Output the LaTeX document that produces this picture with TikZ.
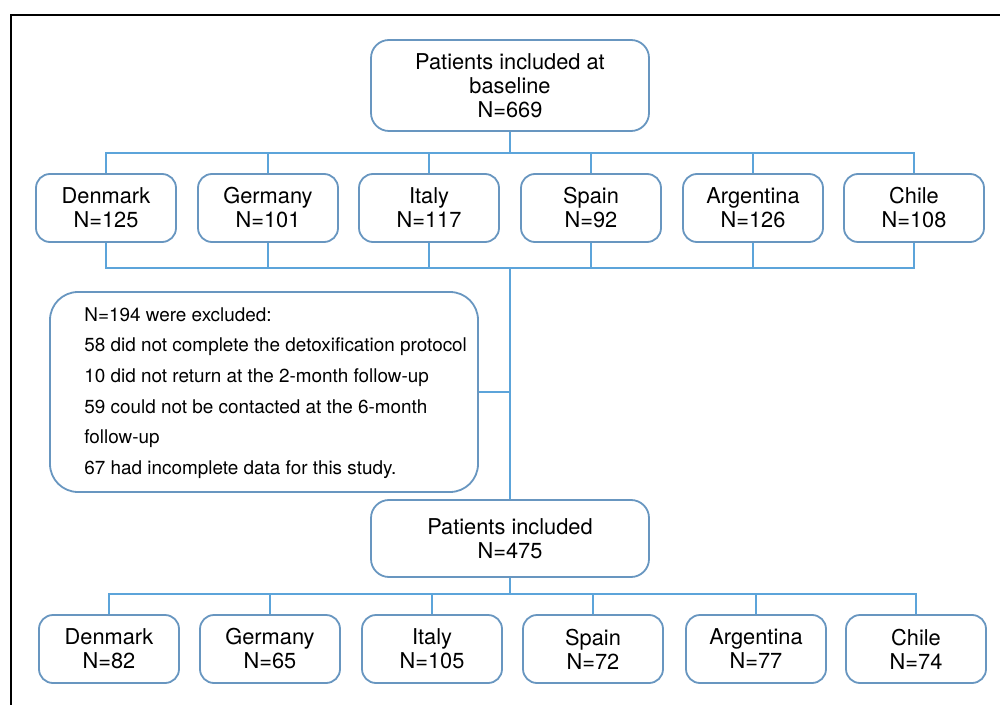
\documentclass[tikz,border=0pt]{standalone}
\usepackage{fontspec}
\setmainfont{TeX Gyre Heros}
\definecolor{boxblue}{RGB}{104,150,192}
\definecolor{linkblue}{RGB}{92,164,218}

\begin{document}
\begin{tikzpicture}[x=0.5pt,y=-0.5pt,
    box/.style={draw=boxblue,line width=0.9pt,rounded corners=7pt,align=center,
      minimum width=70pt,minimum height=34pt,inner sep=0pt,font=\fontsize{10.9}{12}\selectfont},
    bigbox/.style={box,minimum width=139pt,rounded corners=9pt},
    link/.style={draw=linkblue,line width=0.7pt}]
    \useasboundingbox (0,0) rectangle (1000,705);
    \draw[line width=1pt] (11,705) -- (11,15) -- (1000,15);
    % baseline
    \node[bigbox,minimum height=45.5pt] (top) at (510,85.5) {Patients included at\\baseline\\N=669};
    \node[box] (dk1) at (106,208) {Denmark\\N=125};
    \node[box] (de1) at (268,208) {Germany\\N=101};
    \node[box] (it1) at (429,208) {Italy\\N=117};
    \node[box] (es1) at (591,208) {Spain\\N=92};
    \node[box] (ar1) at (753,208) {Argentina\\N=126};
    \node[box] (cl1) at (914,208) {Chile\\N=108};
    \coordinate (j1) at (510,153);
    \coordinate (j2) at (510,268);
    \draw[link] (top.south) -- (j1);
    \draw[link] (j1) -| (dk1.north); \draw[link] (j1) -| (de1.north); \draw[link] (j1) -| (it1.north);
    \draw[link] (j1) -| (es1.north); \draw[link] (j1) -| (ar1.north); \draw[link] (j1) -| (cl1.north);
    \draw[link] (dk1.south) |- (j2); \draw[link] (de1.south) |- (j2); \draw[link] (it1.south) |- (j2);
    \draw[link] (es1.south) |- (j2); \draw[link] (ar1.south) |- (j2); \draw[link] (cl1.south) |- (j2);
    % exclusions
    \node[box,minimum width=214pt,minimum height=100pt,rounded corners=14pt] (excl) at (264,392) {};
    \node[anchor=west,inner sep=0pt,align=left,font=\fontsize{9.45}{15.3}\selectfont] (excltxt) at (84,393)
      {N=194 were excluded:\\58 did not complete the detoxification protocol\\10 did not return at the 2-month follow-up\\
       59 could not be contacted at the 6-month\\follow-up\\67 had incomplete data for this study.};
    % follow-up
    \node[bigbox,minimum height=38.5pt] (incl) at (510,538.5) {Patients included\\N=475};
    \draw[link] (j2) -- (incl.north);
    \draw[link] (excl.east) -- (excl.east -| j2);
    \node[box] (dk2) at (109,649) {Denmark\\N=82};
    \node[box] (de2) at (270,649) {Germany\\N=65};
    \node[box] (it2) at (432,649) {Italy\\N=105};
    \node[box] (es2) at (593,649) {Spain\\N=72};
    \node[box] (ar2) at (756,649) {Argentina\\N=77};
    \node[box] (cl2) at (916,649) {Chile\\N=74};
    \coordinate (j3) at (510,594);
    \draw[link] (incl.south) -- (j3);
    \draw[link] (j3) -| (dk2.north); \draw[link] (j3) -| (de2.north); \draw[link] (j3) -| (it2.north);
    \draw[link] (j3) -| (es2.north); \draw[link] (j3) -| (ar2.north); \draw[link] (j3) -| (cl2.north);
\end{tikzpicture}
\end{document}
